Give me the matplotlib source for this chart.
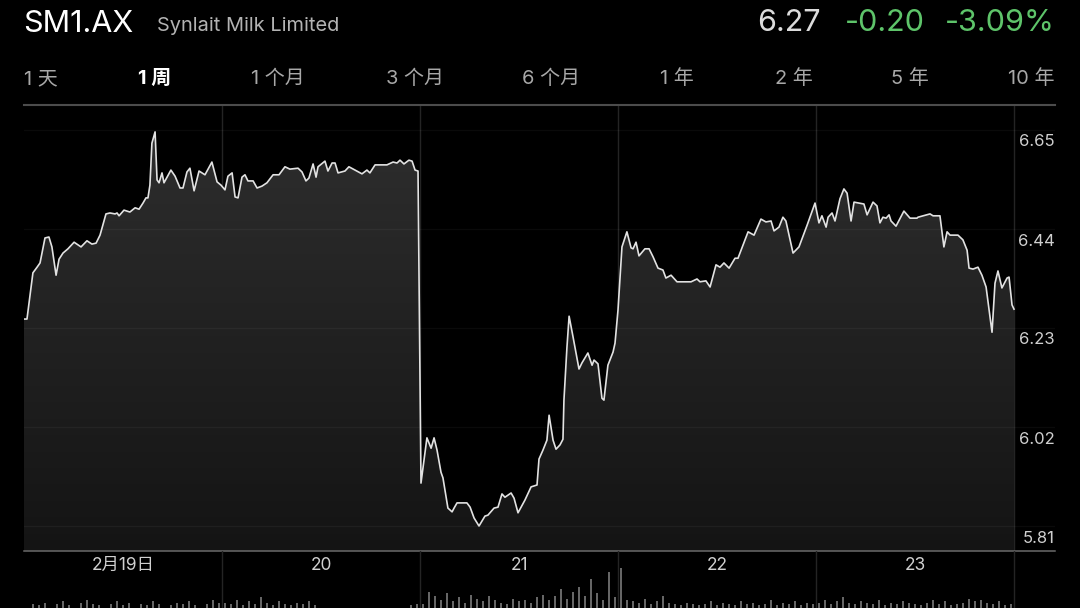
import matplotlib
matplotlib.use("Agg")
import matplotlib.pyplot as plt
import numpy as np
from matplotlib import transforms
from matplotlib.colors import LinearSegmentedColormap

plt.rcParams['font.family'] = ['Inter', 'Noto Sans CJK SC', 'DejaVu Sans']

# ---- data ---------------------------------------------------------------
symbol = "SM1.AX"
company = "Synlait Milk Limited"
last_price = "6.27"
change = "-0.20"
change_pct = "-3.09%"

ranges = ["1 天", "1 周", "1 个月", "3 个月", "6 个月", "1 年", "2 年", "5 年", "10 年"]
selected_range = "1 周"

day_labels = ["2月19日", "20", "21", "22", "23"]
price_ticks = [6.65, 6.44, 6.23, 6.02, 5.81]

# intraday prices, time in trading days since the open of 19 Feb
t_19 = [0.000, 0.015, 0.045, 0.066, 0.081, 0.106, 0.126, 0.141, 0.162, 0.177,
        0.197, 0.222, 0.253, 0.288, 0.318, 0.343, 0.364, 0.384, 0.414, 0.434,
        0.460, 0.470, 0.480, 0.505, 0.535, 0.561, 0.581, 0.601, 0.616, 0.626,
        0.636, 0.646, 0.662, 0.672, 0.682, 0.697, 0.707, 0.742, 0.763, 0.788,
        0.803, 0.823, 0.838, 0.859, 0.884, 0.914, 0.949, 0.975, 0.995]
p_19 = [6.249, 6.249, 6.347, 6.359, 6.368, 6.421, 6.423, 6.402, 6.342, 6.376,
        6.389, 6.398, 6.412, 6.402, 6.415, 6.408, 6.410, 6.427, 6.472, 6.474,
        6.472, 6.474, 6.468, 6.480, 6.476, 6.485, 6.482, 6.495, 6.506, 6.506,
        6.533, 6.622, 6.646, 6.544, 6.538, 6.559, 6.538, 6.565, 6.552, 6.527,
        6.527, 6.561, 6.569, 6.521, 6.563, 6.555, 6.582, 6.540, 6.533]

t_20 = [1.015, 1.030, 1.051, 1.066, 1.081, 1.101, 1.116, 1.131, 1.157, 1.177,
        1.202, 1.227, 1.258, 1.288, 1.318, 1.343, 1.384, 1.404, 1.424, 1.439,
        1.460, 1.475, 1.485, 1.520, 1.535, 1.556, 1.571, 1.586, 1.621, 1.641,
        1.672, 1.707, 1.732, 1.747, 1.773, 1.833, 1.864, 1.884, 1.899, 1.919,
        1.944, 1.960, 1.975, 1.990]
p_20 = [6.523, 6.552, 6.559, 6.508, 6.506, 6.550, 6.555, 6.542, 6.542, 6.527,
        6.531, 6.538, 6.555, 6.555, 6.572, 6.567, 6.569, 6.561, 6.542, 6.548,
        6.578, 6.550, 6.572, 6.584, 6.563, 6.580, 6.580, 6.559, 6.563, 6.572,
        6.565, 6.557, 6.565, 6.559, 6.576, 6.576, 6.582, 6.580, 6.586, 6.578,
        6.586, 6.584, 6.565, 6.563]

t_21 = [2.005, 2.035, 2.056, 2.071, 2.086, 2.106, 2.116, 2.141, 2.162, 2.172,
        2.187, 2.237, 2.253, 2.273, 2.298, 2.328, 2.343, 2.374, 2.394, 2.414,
        2.429, 2.460, 2.475, 2.495, 2.530, 2.561, 2.591, 2.601, 2.621, 2.641,
        2.652, 2.672, 2.687, 2.707, 2.722, 2.727, 2.742, 2.753, 2.773, 2.803,
        2.818, 2.848, 2.869, 2.879, 2.899, 2.919, 2.929, 2.949, 2.975, 2.985]
p_21 = [5.901, 5.997, 5.975, 5.997, 5.971, 5.924, 5.912, 5.848, 5.840, 5.848,
        5.859, 5.859, 5.850, 5.827, 5.810, 5.831, 5.833, 5.848, 5.850, 5.878,
        5.871, 5.880, 5.869, 5.838, 5.865, 5.893, 5.897, 5.952, 5.971, 5.992,
        6.045, 5.992, 5.973, 5.982, 5.994, 6.077, 6.188, 6.255, 6.211, 6.143,
        6.156, 6.177, 6.151, 6.162, 6.154, 6.081, 6.077, 6.151, 6.179, 6.198]

t_22 = [3.000, 3.020, 3.045, 3.066, 3.076, 3.091, 3.106, 3.136, 3.157, 3.177,
        3.202, 3.227, 3.242, 3.268, 3.298, 3.369, 3.399, 3.414, 3.444, 3.465,
        3.495, 3.515, 3.535, 3.561, 3.591, 3.606, 3.657, 3.687, 3.722, 3.747,
        3.773, 3.788, 3.813, 3.833, 3.848, 3.884, 3.914, 3.955, 3.995]
p_22 = [6.268, 6.402, 6.434, 6.400, 6.398, 6.412, 6.383, 6.398, 6.398, 6.381,
        6.357, 6.353, 6.336, 6.342, 6.328, 6.328, 6.334, 6.328, 6.330, 6.317,
        6.364, 6.359, 6.368, 6.357, 6.378, 6.378, 6.434, 6.427, 6.461, 6.455,
        6.457, 6.436, 6.444, 6.465, 6.457, 6.389, 6.402, 6.448, 6.495]

t_23 = [4.015, 4.030, 4.051, 4.061, 4.081, 4.096, 4.121, 4.141, 4.157, 4.177,
        4.192, 4.217, 4.242, 4.258, 4.288, 4.308, 4.323, 4.338, 4.354, 4.369,
        4.379, 4.404, 4.444, 4.475, 4.510, 4.515, 4.576, 4.591, 4.626, 4.646,
        4.662, 4.677, 4.717, 4.742, 4.763, 4.773, 4.793, 4.818, 4.838, 4.859,
        4.889, 4.904, 4.919, 4.939, 4.965, 4.975, 4.990, 5.000]
p_23 = [6.453, 6.468, 6.444, 6.465, 6.474, 6.457, 6.504, 6.525, 6.516, 6.457,
        6.497, 6.495, 6.493, 6.470, 6.497, 6.489, 6.453, 6.465, 6.463, 6.470,
        6.457, 6.446, 6.478, 6.463, 6.463, 6.465, 6.472, 6.468, 6.468, 6.402,
        6.434, 6.427, 6.427, 6.417, 6.395, 6.357, 6.355, 6.359, 6.342, 6.317,
        6.221, 6.325, 6.351, 6.315, 6.336, 6.338, 6.279, 6.270]

# volume (thousand shares), 33 slots per day
vol_19 = [0, 3, 2, 4, 0, 3, 5, 2, 0, 4, 6, 3, 2, 0, 3, 5, 2, 4, 0, 3, 2, 5, 3,
          0, 2, 4, 3, 5, 2, 0, 3, 6, 4]
vol_20 = [4, 3, 6, 2, 5, 3, 8, 4, 2, 5, 3, 2, 4, 3, 5, 2, 0, 0, 0, 0, 0, 0, 0,
          0, 0, 0, 0, 0, 0, 0, 0, 2, 3]
vol_21 = [3, 12, 9, 6, 11, 5, 8, 4, 10, 7, 5, 9, 6, 4, 3, 7, 5, 6, 4, 8, 10, 6,
          9, 14, 7, 12, 16, 9, 22, 11, 6, 27, 8]
vol_22 = [30, 6, 5, 4, 7, 3, 5, 9, 4, 3, 2, 4, 3, 2, 3, 5, 2, 4, 3, 2, 5, 3, 4,
          2, 3, 6, 2, 4, 3, 5, 2, 4, 3]
vol_23 = [4, 6, 3, 5, 8, 4, 3, 5, 4, 3, 6, 2, 4, 3, 5, 4, 3, 2, 4, 6, 3, 5, 2,
          3, 4, 7, 5, 6, 4, 3, 5, 2, 3]

# ---- figure -------------------------------------------------------------
W, H = 1080, 608
fig = plt.figure(figsize=(W / 100, H / 100), dpi=100, facecolor='black')


def fx(px):
    return px / W


def fy(py):
    return 1 - py / H


# header
fig.text(fx(23), fy(24), symbol, color='white', fontsize=22, va='center')
fig.text(fx(157), fy(26), company, color='#b3b3b3', fontsize=14.4, va='center')
fig.text(fx(821), fy(23), last_price, color='#dcdcdc', fontsize=22, va='center', ha='right')
fig.text(fx(925), fy(23), change, color='#5ec46a', fontsize=22, va='center', ha='right')
fig.text(fx(1055), fy(23), change_pct, color='#5ec46a', fontsize=22, va='center', ha='right')

# range selector
range_x = [24, 138, 251, 386, 522, 660, 775, 891, 1008]
for lbl, x in zip(ranges, range_x):
    sel = lbl == selected_range
    fig.text(fx(x), fy(79), lbl, color='white' if sel else '#a8a8a8',
             fontsize=14.4, fontweight='bold' if sel else 'normal', va='center')

# price chart
times = np.array(t_19 + t_20 + t_21 + t_22 + t_23)
prices = np.array(p_19 + p_20 + p_21 + p_22 + p_23)

y_top, y_bot = 105, 551
px_per_unit = 99 / 0.21
ymax = price_ticks[0] + (130 - y_top) / px_per_unit
ymin = price_ticks[0] - (y_bot - 130) / px_per_unit
xmax = (1055 - 24) / 198

ax = fig.add_axes([fx(24), fy(y_bot), (1055 - 24) / W, (y_bot - y_top) / H])
ax.set_facecolor('black')
ax.set_xlim(0, xmax)
ax.set_ylim(ymin, ymax)

poly = ax.fill_between(times, prices, ymin, color='none', lw=0)
cmap = LinearSegmentedColormap.from_list('fade', ['#141414', '#2f2f2f'])
grad = np.linspace(0, 1, 256).reshape(-1, 1)
img = ax.imshow(grad, extent=[0, times[-1], ymin, ymax], origin='lower',
                aspect='auto', cmap=cmap, zorder=1)
img.set_clip_path(poly.get_paths()[0], transform=ax.transData)

ax.plot(times, prices, color='#e2e2e2', lw=1.2, zorder=3, solid_joinstyle='round')

for v in price_ticks:
    ax.axhline(v, color='white', alpha=0.045, lw=1, zorder=2)
    off = transforms.offset_copy(ax.get_yaxis_transform(), fig=fig, y=-12, units='dots')
    ax.text(1.0, v, f"{v:.2f}", transform=off, ha='right', va='center',
            color='#cfcfcf', fontsize=12)

for d in range(1, len(day_labels) + 1):
    ax.axvline(d, color='#242424', lw=1, zorder=0.5)

ax.set_xticks(np.arange(len(day_labels)) + 0.5)
ax.set_xticklabels(day_labels)
ax.tick_params(axis='x', length=0, pad=4, labelsize=12.5, labelcolor='#d0d0d0')
ax.set_yticks([])
for s in ['left', 'right']:
    ax.spines[s].set_visible(False)
ax.spines['top'].set_color('#4c4c4c')
ax.spines['top'].set_linewidth(1.5)
ax.spines['bottom'].set_color('#6a6a6a')
ax.spines['bottom'].set_linewidth(1.1)

# volume strip
vax = fig.add_axes([fx(24), 0, (1055 - 24) / W, (H - y_bot) / H])
vax.set_facecolor('none')
vax.set_xlim(0, xmax)
vax.set_ylim(0, 43)
volumes = [vol_19, vol_20, vol_21, vol_22, vol_23]
for d, vols in enumerate(volumes):
    n = len(vols)
    xs = d + (np.arange(n) + 0.5) / n
    vax.bar(xs, vols, width=0.35 / n, color='#666666', lw=0)
for d in range(1, len(day_labels) + 1):
    vax.plot([d, d], [0, 43], color='#242424', lw=1, zorder=0)
vax.axis('off')

fig.savefig('out.png', dpi=100, facecolor='black')
